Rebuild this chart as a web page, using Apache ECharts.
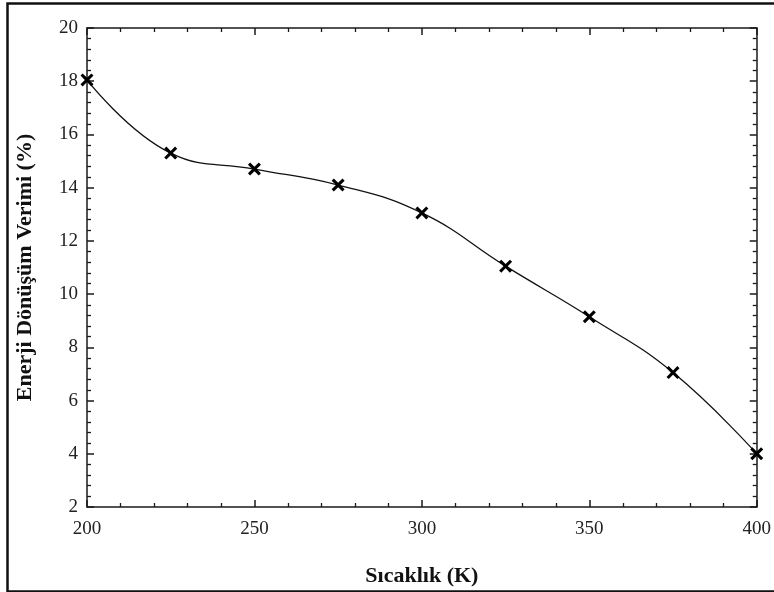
<!DOCTYPE html>
<html>
<head>
<meta charset="utf-8">
<script src="https://cdn.jsdelivr.net/npm/echarts@6/dist/echarts.min.js"></script>
<style>
  html, body { margin: 0; padding: 0; background: #fff; }
  #chart { width: 774px; height: 592px; }
</style>
</head>
<body>
<div id="chart"></div>
<script>
// Temperature (K) and energy conversion efficiency (%)
const temperatures = [200, 225, 250, 275, 300, 325, 350, 375, 400];
const efficiency = [18.05, 15.3, 14.7, 14.1, 13.05, 11.05, 9.15, 7.05, 4.0];

const xTicks = { min: 200, max: 400, interval: 50 };
const yTicks = { min: 2, max: 20, interval: 2 };

const serif = '"Liberation Serif", "Times New Roman", serif';
const axisColor = '#1a1a1a';

// Filled "x" marker
const crossPath = 'path://M0,2 L2,0 L6,4 L10,0 L12,2 L8,6 L12,10 L10,12 L6,8 L2,12 L0,10 L4,6 Z';

function frameAxis(extra) {
  return Object.assign({
    type: 'value',
    axisLine: { show: true, onZero: false, lineStyle: { color: axisColor, width: 1.5 } },
    axisTick: { show: true, inside: true, length: 7, lineStyle: { color: axisColor, width: 1.5 } },
    minorTick: { show: true, splitNumber: 5, length: 4, lineStyle: { color: axisColor, width: 1.3 } },
    splitLine: { show: false },
    minorSplitLine: { show: false }
  }, extra);
}

const chart = echarts.init(document.getElementById('chart'), null, { renderer: 'canvas' });

const xData = temperatures.map((t, i) => [t, efficiency[i]]);

chart.setOption({
  backgroundColor: '#fff',
  animation: false,
  graphic: [{
    type: 'rect',
    left: 5, top: 1,
    shape: { width: 790, height: 588 },
    style: { fill: 'none', stroke: '#111', lineWidth: 2.5 },
    silent: true
  }],
  grid: { left: 87, right: 16, top: 28, bottom: 84 },
  xAxis: [
    frameAxis({
      position: 'bottom',
      min: xTicks.min, max: xTicks.max, interval: xTicks.interval,
      name: 'Sıcaklık (K)',
      nameLocation: 'middle',
      nameGap: 58,
      nameTextStyle: { fontFamily: serif, fontWeight: 'bold', fontSize: 22, color: '#111' },
      axisLabel: { fontFamily: serif, fontSize: 19, color: '#222', margin: 13 }
    }),
    frameAxis({
      position: 'top',
      min: xTicks.min, max: xTicks.max, interval: xTicks.interval,
      axisLabel: { show: false }
    })
  ],
  yAxis: [
    frameAxis({
      position: 'left',
      min: yTicks.min, max: yTicks.max, interval: yTicks.interval,
      name: 'Enerji Dönüşüm Verimi (%)',
      nameLocation: 'middle',
      nameGap: 51,
      nameRotate: 90,
      nameTextStyle: { fontFamily: serif, fontWeight: 'bold', fontSize: 22, color: '#111' },
      axisLabel: { fontFamily: serif, fontSize: 19, color: '#222', margin: 9 }
    }),
    frameAxis({
      position: 'right',
      min: yTicks.min, max: yTicks.max, interval: yTicks.interval,
      axisLabel: { show: false }
    })
  ],
  series: [{
    type: 'line',
    data: xData,
    smooth: 0.45,
    symbol: crossPath,
    symbolSize: 13,
    showAllSymbol: true,
    clip: false,
    lineStyle: { color: '#111', width: 1.3 },
    itemStyle: { color: '#000', borderWidth: 0 },
    z: 5
  }]
});
</script>
</body>
</html>
